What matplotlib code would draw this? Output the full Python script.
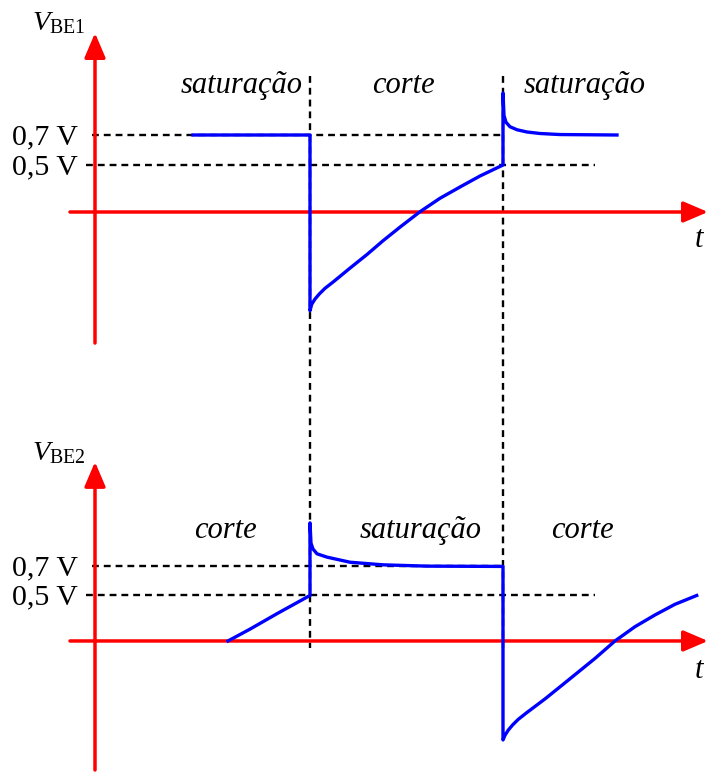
import numpy as np
import matplotlib.pyplot as plt
import matplotlib.transforms as mtransforms
from matplotlib.patches import ArrowStyle

plt.rcParams['font.family'] = 'Liberation Serif'
plt.rcParams['mathtext.fontset'] = 'custom'
plt.rcParams['mathtext.rm'] = 'Liberation Serif'
plt.rcParams['mathtext.it'] = 'Liberation Serif:italic'

# switching instants of the square drive
t_on = 2.15
t_off = 4.08

# reference levels
levels = [0.7, 0.5]
level_labels = ['0,7 V', '0,5 V']
level_ends = [t_off, 5.0]
level_starts = [-0.03, -0.09]

# base-emitter voltage of transistor 1
t_be1 = [0.98, 2.15, 2.15, 2.167, 2.20, 2.243, 2.30, 2.383, 2.55, 2.72, 2.88, 3.05, 3.25,
         3.45, 3.65, 3.85, 4.08, 4.08, 4.09, 4.11, 4.15, 4.22, 4.32, 4.45, 4.65, 5.22]
v_be1 = [0.70, 0.70, -1.05, -0.982, -0.926, -0.872, -0.812, -0.743, -0.597, -0.452, -0.306,
         -0.161, 0.003, 0.146, 0.266, 0.383, 0.50, 0.98, 0.83, 0.785, 0.755, 0.735, 0.72,
         0.71, 0.703, 0.70]

# base-emitter voltage of transistor 2
t_be2 = [1.33, 1.55, 1.82, 2.15, 2.15, 2.16, 2.18, 2.22, 2.32, 2.55, 2.88, 3.32, 4.08,
         4.08, 4.10, 4.133, 4.176, 4.233, 4.316, 4.50, 4.667, 4.833, 5.00, 5.20, 5.40, 5.60,
         5.80, 6.017]
v_be2 = [0.00, 0.13, 0.30, 0.50, 1.00, 0.86, 0.82, 0.787, 0.764, 0.729, 0.711, 0.702, 0.70,
         -1.088, -1.036, -0.979, -0.923, -0.861, -0.789, -0.637, -0.489, -0.341, -0.192, 0.00,
         0.157, 0.286, 0.403, 0.50]

regions_1 = ['saturação', 'corte', 'saturação']
regions_1_t = [1.47, 3.08, 4.90]
regions_2 = ['corte', 'saturação', 'corte']
regions_2_t = [1.30, 3.26, 4.87]


# the sketch is not to scale: above 0.5 V the axis is stretched
def v_to_h(v):
    return np.interp(v, [-10, 0, 0.5, 10], [-940, 0, 47, 1472])


def h_to_v(h):
    return np.interp(h, [-940, 0, 47, 1472], [-10, 0, 0.5, 10])


fig = plt.figure(figsize=(7.06, 7.73), dpi=100)
ax1 = fig.add_axes([0, 387 / 773, 1, 386 / 773])
ax2 = fig.add_axes([0, 0, 1, 387 / 773])

arrow = ArrowStyle('-|>', head_length=0.75, head_width=0.32)
arrow_kw = dict(arrowstyle=arrow, color='red', lw=2.5, mutation_scale=20,
                shrinkA=0, shrinkB=0)
dash = (0, (2.9, 2.1))
dash_lw = 1.7

panels = [
    (ax1, t_be1, v_be1, r'$V_{\mathrm{BE1}}$', regions_1, regions_1_t, 0.98,
     (-174, 212), (1.38, -1.394), 1.40, -0.37),
    (ax2, t_be2, v_be2, r'$V_{\mathrm{BE2}}$', regions_2, regions_2_t, 0.896,
     (-136.4, 263.4), (1.42, -1.418), 1.433, -0.41),
]

for ax, t, v, name, regs, regs_t, reg_v, hlim, yax, name_v, t_lab_v in panels:
    ax.set_yscale('function', functions=(v_to_h, h_to_v))

    # axes drawn as red arrows
    ax.annotate('', xy=(6.13, 0), xytext=(-0.25, 0), arrowprops=arrow_kw,
                annotation_clip=False, zorder=2)
    ax.annotate('', xy=(0, yax[0]), xytext=(0, yax[1]), arrowprops=arrow_kw,
                annotation_clip=False, zorder=2)

    for lv, lab, x0, x1 in zip(levels, level_labels, level_starts, level_ends):
        ax.plot([x0, x1], [lv, lv], color='black', lw=dash_lw, ls=dash, zorder=1)
        ax.annotate(lab, xy=(-0.17, lv), xytext=(0, -6.5), textcoords='offset points',
                    ha='right', va='baseline', fontsize=21.5)

    ax.plot(t, v, color='blue', lw=2.4, zorder=3, solid_joinstyle='round')

    for txt, xt in zip(regs, regs_t):
        ax.text(xt, reg_v, txt, style='italic', ha='center', va='baseline', fontsize=22)

    ax.text(-0.63, name_v, name, fontsize=20.5, ha='left', va='baseline')
    ax.text(6.04, t_lab_v, 't', style='italic', ha='center', va='baseline', fontsize=22)

    ax.set_xlim(-0.95, 6.11)
    ax.set_ylim(h_to_v(hlim[0]), h_to_v(hlim[1]))
    ax.axis('off')

# switching instants span both panels
trans = mtransforms.blended_transform_factory(ax1.transData, fig.transFigure)
for ts in [t_on, t_off]:
    ax1.plot([ts, ts], [1 - 76 / 773, 1 - 648 / 773], color='black', lw=dash_lw, ls=dash,
             transform=trans, clip_on=False, zorder=1)

fig.savefig('out.png', dpi=100)
